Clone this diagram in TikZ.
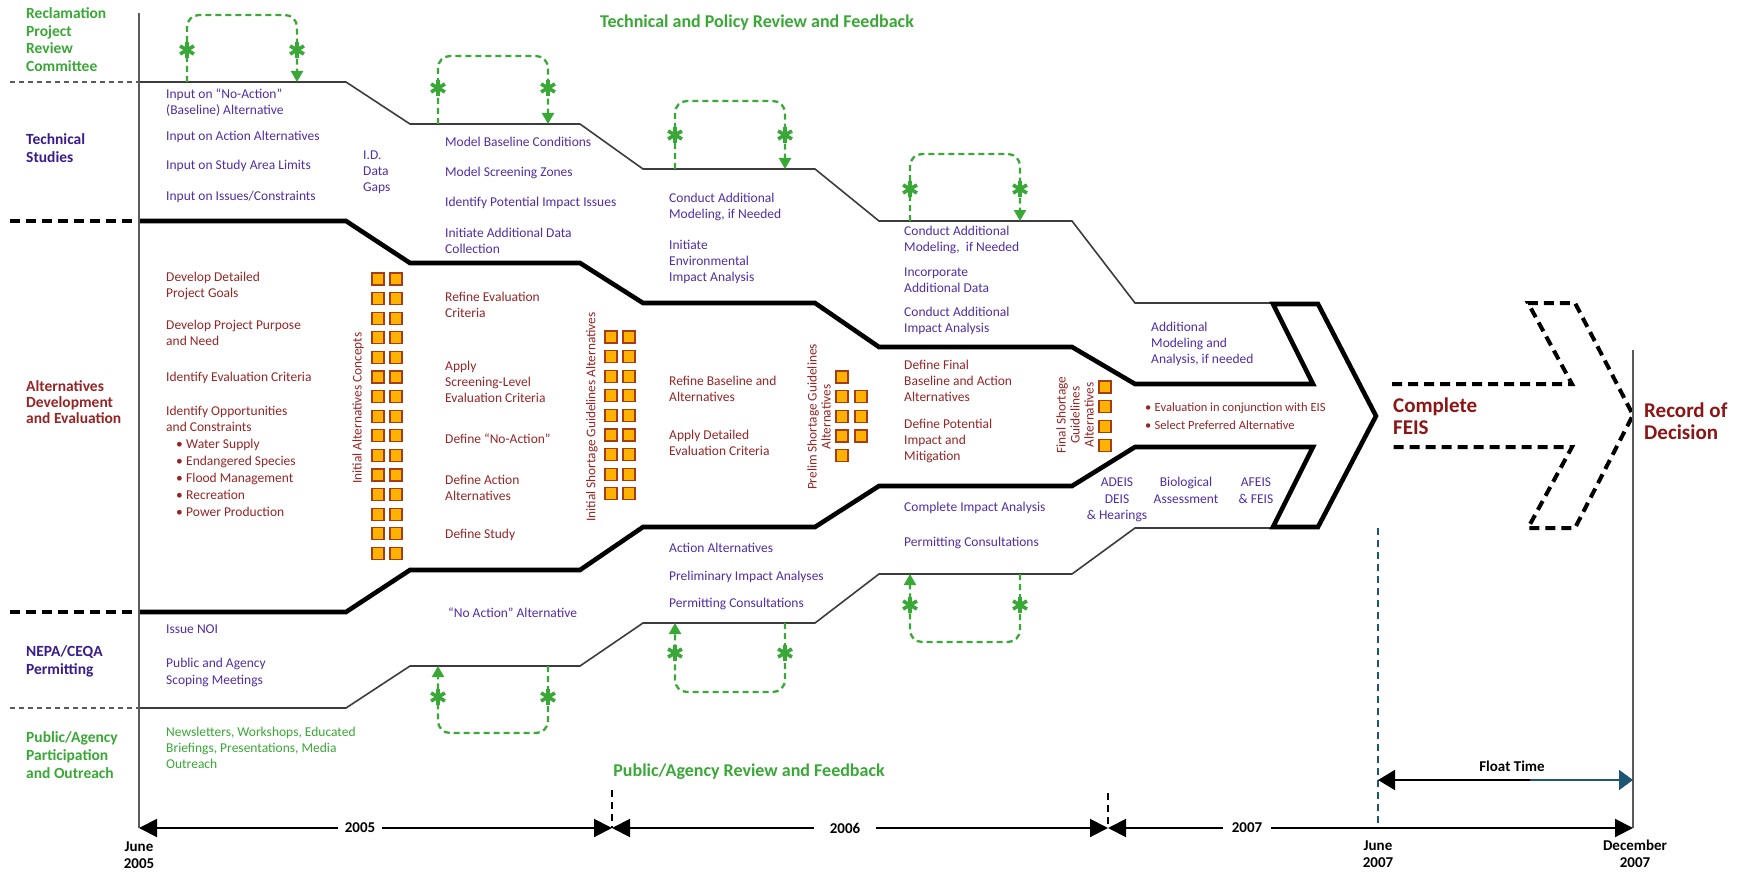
\documentclass[tikz,border=0pt]{standalone}
\usepackage{fontspec}
\setmainfont{Carlito}
\usetikzlibrary{arrows.meta}
\definecolor{grn}{RGB}{58,168,54}
\definecolor{purp}{RGB}{82,45,165}
\definecolor{dpurp}{RGB}{58,28,140}
\definecolor{dred}{RGB}{150,38,38}
\definecolor{bred}{RGB}{140,22,22}
\definecolor{sqf}{RGB}{255,178,0}
\definecolor{sqb}{RGB}{165,60,20}
\definecolor{lineg}{RGB}{60,60,60}
\definecolor{axisg}{RGB}{90,90,90}
\definecolor{fblue}{RGB}{30,85,115}
\newcommand{\bul}{\textbullet\hspace{3.3pt}}
\tikzset{
  body/.style={font=\fontsize{13.5}{16}\selectfont, inner sep=0pt, align=left, anchor=base west},
  tech/.style={body, text=purp},
  alt/.style={body, text=dred},
  pub/.style={body, text=grn},
  ctr/.style={font=\fontsize{13.5}{16.5}\selectfont, inner sep=0pt, align=center, anchor=base, text=purp},
  rot/.style={font=\fontsize{13.3}{14}\selectfont, inner sep=0pt, align=center, rotate=90, text=dred},
  lbl/.style={font=\bfseries\fontsize{15.5}{17.5}\selectfont, inner sep=0pt, align=left, anchor=base west},
  ttl/.style={font=\bfseries\fontsize{18}{20}\selectfont, text=grn, inner sep=0pt},
  big/.style={font=\bfseries\fontsize{21}{22}\selectfont, text=bred, inner sep=0pt, align=left, anchor=base west},
  tim/.style={font=\bfseries\fontsize{15}{17}\selectfont, inner sep=0pt, align=center, anchor=base},
  yr/.style={font=\bfseries\fontsize{15}{17}\selectfont, inner sep=7pt},
  sq/.style={draw=sqb, fill=sqf, line width=1.3pt, minimum size=12pt, inner sep=0pt},
  thinln/.style={draw=lineg, line width=1.6pt},
  thickln/.style={draw=black, line width=4.6pt, miter limit=20},
  fb/.style={draw=grn, line width=2.3pt, dash pattern=on 6pt off 4pt, rounded corners=12pt},
  fbtip/.style={-{Triangle[length=11pt,width=12pt]}},
  ast/.style={circle, minimum size=18pt, inner sep=0pt,
    path picture={\foreach \ang in {90,30,150}{\draw[grn, line width=3.6pt] (path picture bounding box.center) ++(\ang:8pt) -- ++(\ang+180:16pt);}}},
  tltip/.style={-{Triangle[length=18pt,width=18pt]}},
}
\begin{document}
\begin{tikzpicture}[x=1pt,y=-1pt]
\fill[white] (0,0) rectangle (1743,872);
\useasboundingbox (0,0) rectangle (1743,872);

% ---- lane separators at the left
\draw[draw=axisg, line width=1.3pt, dash pattern=on 5pt off 4pt] (10,82) -- (139,82);
\draw[thickln, dash pattern=on 10pt off 6pt] (10,221) -- (139,221);
\draw[thickln, dash pattern=on 10pt off 6pt] (10,612) -- (139,612);
\draw[draw=axisg, line width=1.3pt, dash pattern=on 5pt off 4pt] (10,708) -- (139,708);

% ---- band outlines
\draw[thinln] (139,82) -- (346,82) -- (410,124) -- (580,124) -- (643,169) -- (815,169) -- (879,221) -- (1072,221) -- (1135,303) -- (1275,303);
\draw[thinln] (139,708) -- (346,708) -- (410,666) -- (580,666) -- (643,623) -- (815,623) -- (879,574) -- (1072,574) -- (1135,528) -- (1275,528);
\draw[thickln] (139,221) -- (346,221) -- (410,263) -- (580,263) -- (643,303) -- (815,303) -- (879,347) -- (1072,347) -- (1135,384) -- (1313,384) -- (1273,304) -- (1318,304) -- (1376,416) -- (1318,527) -- (1273,527) -- (1313,447) -- (1135,447) -- (1072,486) -- (879,486) -- (815,527) -- (643,527) -- (580,570) -- (410,570) -- (346,612) -- (139,612);

% ---- dashed chevron
\draw[draw=black, line width=4pt, dash pattern=on 10pt off 6pt, miter limit=20] (1392,384) -- (1572,384) -- (1528,303) -- (1575,303) -- (1633,415) -- (1575,528) -- (1528,528) -- (1572,447) -- (1392,447);

% ---- vertical lines
\draw[axisg, line width=2.4pt] (139,13) -- (139,828);
\draw[axisg, line width=2.4pt] (1633,350) -- (1633,828);
\draw[fblue, line width=2pt, dash pattern=on 7pt off 5pt] (1378,528) -- (1378,828);

% ---- left lane labels
\node[lbl, text=grn] (lRec) at (26,71.5) {Reclamation\\Project\\Review\\Committee};
\node[lbl, text=dpurp, font=\bfseries\fontsize{15.5}{18}\selectfont] (lTech) at (26,163) {Technical\\Studies};
\node[lbl, text=dred, font=\bfseries\fontsize{15.5}{16.3}\selectfont] (lAlt) at (26,423.6) {Alternatives\\Development\\and Evaluation};
\node[lbl, text=dpurp, font=\bfseries\fontsize{15.5}{18.5}\selectfont] (lNepa) at (26,674.5) {NEPA/CEQA\\Permitting};
\node[lbl, text=grn, font=\bfseries\fontsize{15.5}{18.3}\selectfont] (lPub) at (26,778.6) {Public/Agency\\Participation\\and Outreach};

% ---- titles
\node[ttl] (tTop) at (757,23) {Technical and Policy Review and Feedback};
\node[ttl] (tBot) at (749,772) {Public/Agency Review and Feedback};

% ---- column 1
\node[tech] (c1a) at (166,114.5) {Input on “No-Action”\\(Baseline) Alternative};
\node[tech] (c1b) at (166,140.5) {Input on Action Alternatives};
\node[tech] (c1c) at (166,169.5) {Input on Study Area Limits};
\node[tech] (c1d) at (166,200.5) {Input on Issues/Constraints};
\node[tech] (c1e) at (363,191.5) {I.D.\\Data\\Gaps};
\node[alt] (c1f) at (166,297.5) {Develop Detailed\\Project Goals};
\node[alt] (c1g) at (166,345.5) {Develop Project Purpose\\and Need};
\node[alt] (c1h) at (166,381.5) {Identify Evaluation Criteria};
\node[alt] (c1i) at (166,431.5) {Identify Opportunities\\and Constraints};
\node[alt, font=\fontsize{13.5}{17}\selectfont] (c1j) at (176,516.5) {\bul Water Supply\\\bul Endangered Species\\\bul Flood Management\\\bul Recreation\\\bul Power Production};
\node[tech] (c1k) at (166,633.5) {Issue NOI};
\node[tech, font=\fontsize{13.5}{16.5}\selectfont] (c1l) at (166,684) {Public and Agency\\Scoping Meetings};
\node[pub] (c1m) at (166,768.5) {Newsletters, Workshops, Educated\\Briefings, Presentations, Media\\Outreach};

% ---- column 2
\node[tech] (c2a) at (445,146.5) {Model Baseline Conditions};
\node[tech] (c2b) at (445,176.5) {Model Screening Zones};
\node[tech] (c2c) at (445,206.5) {Identify Potential Impact Issues};
\node[tech] (c2d) at (445,253.5) {Initiate Additional Data\\Collection};
\node[alt] (c2e) at (445,317.5) {Refine Evaluation\\Criteria};
\node[alt] (c2f) at (445,402.5) {Apply\\Screening-Level\\Evaluation Criteria};
\node[alt] (c2g) at (445,443.5) {Define “No-Action”};
\node[alt] (c2h) at (445,500.5) {Define Action\\Alternatives};
\node[alt] (c2i) at (445,538.5) {Define Study};
\node[tech] (c2j) at (448,617.5) {“No Action” Alternative};

% ---- column 3
\node[tech] (c3a) at (669,218.5) {Conduct Additional\\Modeling, if Needed};
\node[tech] (c3b) at (669,281.5) {Initiate\\Environmental\\Impact Analysis};
\node[alt] (c3c) at (669,401.5) {Refine Baseline and\\Alternatives};
\node[alt] (c3d) at (669,455.5) {Apply Detailed\\Evaluation Criteria};
\node[tech] (c3e) at (669,552.5) {Action Alternatives};
\node[tech] (c3f) at (669,580.5) {Preliminary Impact Analyses};
\node[tech] (c3g) at (669,607.5) {Permitting Consultations};

% ---- column 4
\node[tech] (c4a) at (904,251.5) {Conduct Additional\\Modeling,\ \ if Needed};
\node[tech] (c4b) at (904,292.5) {Incorporate\\Additional Data};
\node[tech] (c4c) at (904,332.5) {Conduct Additional\\Impact Analysis};
\node[alt] (c4d) at (904,401.5) {Define Final\\Baseline and Action\\Alternatives};
\node[alt] (c4e) at (904,460.5) {Define Potential\\Impact and\\Mitigation};
\node[tech] (c4f) at (904,511.5) {Complete Impact Analysis};
\node[tech] (c4g) at (904,546.5) {Permitting Consultations};

% ---- column 5
\node[tech] (c5a) at (1151,363.5) {Additional\\Modeling and\\Analysis, if needed};
\node[alt, font=\fontsize{12.5}{18}\selectfont] (c5b) at (1145,429.5) {\bul Evaluation in conjunction with EIS\\\bul Select Preferred Alternative};
\node[ctr] (c5c) at (1117,519.5) {ADEIS\\DEIS\\\& Hearings};
\node[ctr] (c5d) at (1186,503) {Biological\\Assessment};
\node[ctr] (c5e) at (1256,503) {AFEIS\\\& FEIS};

% ---- rotated labels
\node[rot] (r1) at (358,408) {Initial Alternatives Concepts};
\node[rot] (r2) at (592,417) {Initial Shortage Guidelines Alternatives};
\node[rot] (r3) at (819,417) {Prelim Shortage Guidelines\\Alternatives};
\node[rot] (r4) at (1075,415) {Final Shortage\\Guidelines\\Alternatives};

% ---- squares
\foreach \i in {0,...,14}{
  \node[sq] (sa\i) at (378,279+19.6*\i) {};
  \node[sq] (sb\i) at (396,279+19.6*\i) {};
}
\foreach \i in {0,...,8}{
  \node[sq] (sc\i) at (611,337+19.6*\i) {};
  \node[sq] (sd\i) at (629,337+19.6*\i) {};
}
\foreach \i in {0,...,4}{\node[sq] (se\i) at (842,377+19.7*\i) {};}
\foreach \i in {1,...,3}{\node[sq] (sf\i) at (861,377+19.7*\i) {};}
\foreach \i in {0,...,3}{\node[sq] (sg\i) at (1105,387+19.6*\i) {};}

% ---- feedback loops (top)
\coordinate (t1a) at (187,82);  \coordinate (t1b) at (297,82);
\coordinate (t2a) at (438,124); \coordinate (t2b) at (548,124);
\coordinate (t3a) at (675,169); \coordinate (t3b) at (785,169);
\coordinate (t4a) at (910,221); \coordinate (t4b) at (1020,221);
\draw[fb, fbtip] (t1a) -- ++(0,-67) -- ++(110,0) -- (t1b);
\draw[fb, fbtip] (t2a) -- ++(0,-68) -- ++(110,0) -- (t2b);
\draw[fb, fbtip] (t3a) -- ++(0,-68) -- ++(110,0) -- (t3b);
\draw[fb, fbtip] (t4a) -- ++(0,-67) -- ++(110,0) -- (t4b);
\node[ast] (t1s) at (187,50) {}; \node[ast] (t1t) at (297,50) {};
\node[ast] (t2s) at (438,88) {}; \node[ast] (t2t) at (548,88) {};
\node[ast] (t3s) at (675,135) {}; \node[ast] (t3t) at (785,135) {};
\node[ast] (t4s) at (910,189) {}; \node[ast] (t4t) at (1020,189) {};

% ---- feedback loops (bottom)
\coordinate (b1a) at (438,666); \coordinate (b1b) at (548,666);
\coordinate (b2a) at (675,623); \coordinate (b2b) at (785,623);
\coordinate (b3a) at (910,574); \coordinate (b3b) at (1020,574);
\draw[fb, fbtip] (b1b) -- ++(0,67) -- ++(-110,0) -- (b1a);
\draw[fb, fbtip] (b2b) -- ++(0,69) -- ++(-110,0) -- (b2a);
\draw[fb, fbtip] (b3b) -- ++(0,68) -- ++(-110,0) -- (b3a);
\node[ast] (b1s) at (438,697) {}; \node[ast] (b1t) at (548,697) {};
\node[ast] (b2s) at (675,653) {}; \node[ast] (b2t) at (785,653) {};
\node[ast] (b3s) at (910,605) {}; \node[ast] (b3t) at (1020,605) {};

% ---- milestones
\node[big] (feis) at (1393,434) {Complete\\FEIS};
\node[big] (rod) at (1644,439) {Record of\\Decision};

% ---- timeline
\coordinate (tl0) at (139,828);
\coordinate (tl1) at (612,828);
\coordinate (tl2) at (1108,828);
\coordinate (tl3) at (1633,828);
\node[yr] (y2005) at (360,828) {2005};
\node[yr, inner xsep=16pt] (y2006) at (845,828) {2006};
\node[yr, inner xsep=9pt] (y2007) at (1247,828) {2007};
\draw[line width=2pt, tltip] (y2005.west) -- (tl0);
\draw[line width=2pt, tltip] (y2005.east) -- (tl1);
\draw[line width=2pt, tltip] (y2006.west) -- (tl1);
\draw[line width=2pt, tltip] (y2006.east) -- (tl2);
\draw[line width=2pt, tltip] (y2007.west) -- (tl2);
\draw[line width=2pt, tltip] (y2007.east) -- (tl3);
\coordinate (tk1) at (612,790);
\coordinate (tk2) at (1108,793);
\draw[line width=2pt, dash pattern=on 7pt off 5pt] (tk1) -- (tl1);
\draw[line width=2pt, dash pattern=on 7pt off 5pt] (tk2) -- (tl2);
\node[tim] (d1) at (139,868) {June\\2005};
\node[tim] (d2) at (1378,867) {June\\2007};
\node[tim] (d3) at (1635,867) {December\\2007};

% ---- float time
\coordinate (ftl) at (1378,780);
\coordinate (ftm) at (1530,780);
\coordinate (ftr) at (1633,780);
\draw[line width=2pt, -{Triangle[length=17pt,width=20pt]}] (ftm) -- (ftl);
\draw[fblue, line width=2pt, -{Triangle[length=14pt,width=20pt]}] (ftm) -- (ftr);
\node[font=\bfseries\fontsize{15}{17}\selectfont, inner sep=0pt] (ft) at (1512,766) {Float Time};
\end{tikzpicture}
\end{document}
